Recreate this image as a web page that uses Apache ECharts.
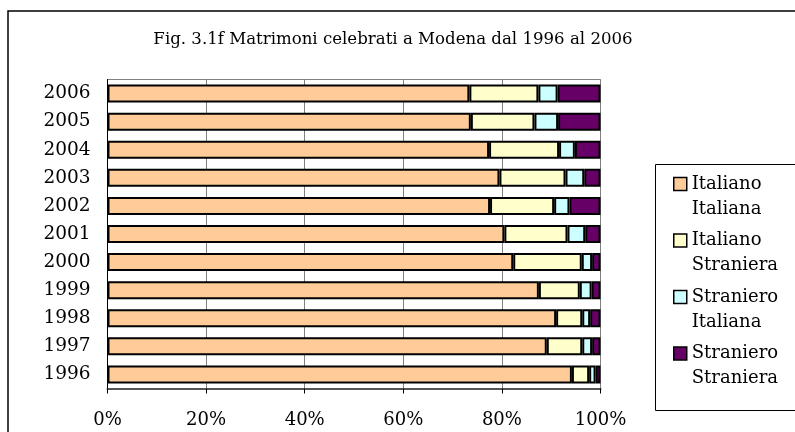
<!DOCTYPE html>
<html>
<head>
<meta charset="utf-8">
<script src="https://cdn.jsdelivr.net/npm/echarts@6/dist/echarts.min.js"></script>
<style>
  html, body { margin: 0; padding: 0; background: #fff; }
  #chart { width: 795px; height: 432px; }
</style>
</head>
<body>
<div id="chart"></div>
<script>
// years, bottom to top
const years = ['1996', '1997', '1998', '1999', '2000', '2001', '2002', '2003', '2004', '2005', '2006']

// shares in % (sposo / sposa)
const italianoItaliana = [94.2, 89.1, 91.0, 87.5, 82.3, 80.5, 77.6, 79.5, 77.4, 73.7, 73.4]
const italianoStraniera = [3.5, 7.2, 5.3, 8.3, 13.9, 12.8, 13.0, 13.4, 14.2, 12.9, 14.0]
const stranieroItaliana = [1.3, 2.0, 1.6, 2.4, 2.1, 3.6, 3.1, 3.8, 3.2, 4.8, 3.9]
const stranieroStraniera = [1.0, 1.7, 2.1, 1.8, 1.7, 3.1, 6.3, 3.3, 5.2, 8.6, 8.7]

const seriesNames = ['Italiano\nItaliana', 'Italiano\nStraniera', 'Straniero\nItaliana', 'Straniero\nStraniera']
const colors = ['#FFCC99', '#FFFFCC', '#CCFFFF', '#660066']

const font = 'DejaVu Serif'
const lineH = 25

const chart = echarts.init(document.getElementById('chart'))

const makeSeries = (name, values, color) => ({
  name: name,
  type: 'bar',
  stack: 'total',
  data: values,
  barWidth: '64%',
  itemStyle: {
    color: color,
    borderColor: '#000',
    borderWidth: 2
  },
  emphasis: { disabled: true }
})

const option = {
  animation: false,
  title: {
    text: 'Fig. 3.1f Matrimoni celebrati a Modena dal 1996 al 2006',
    left: 388,
    top: 26,
    textAlign: 'center',
    textStyle: {
      fontFamily: font,
      fontSize: 16.6,
      fontWeight: 'normal',
      color: '#000'
    }
  },
  legend: {
    orient: 'vertical',
    left: 673,
    top: 184 - 1.5 * lineH,
    padding: 0,
    itemGap: 56.5 - 3 * lineH,
    itemWidth: 13,
    itemHeight: 13,
    icon: 'rect',
    itemStyle: { borderColor: '#000', borderWidth: 1.5 },
    // blank first line so the marker sits beside the first word
    formatter: name => ' \n' + name,
    textStyle: {
      fontFamily: font,
      fontSize: 18,
      color: '#000',
      lineHeight: lineH
    },
    data: seriesNames
  },
  grid: {
    left: 107.5,
    right: 194.5,
    top: 79.5,
    bottom: 43.5,
    show: true,
    borderColor: '#808080',
    borderWidth: 1
  },
  xAxis: {
    type: 'value',
    min: 0,
    max: 100,
    interval: 20,
    axisLabel: {
      formatter: '{value}%',
      fontFamily: font,
      fontSize: 18,
      color: '#000',
      margin: 23
    },
    axisLine: { show: true, lineStyle: { color: '#555', width: 2 } },
    axisTick: { show: true, length: 5, lineStyle: { color: '#000' } },
    splitLine: { lineStyle: { color: '#808080', width: 1 } }
  },
  yAxis: {
    type: 'category',
    data: years,
    axisLabel: {
      fontFamily: font,
      fontSize: 18.5,
      color: '#000',
      margin: 17
    },
    axisLine: { lineStyle: { color: '#000', width: 1 } },
    axisTick: { length: 5, lineStyle: { color: '#000' } }
  },
  graphic: [
    {
      type: 'rect',
      shape: { x: 8, y: 11, width: 800, height: 440 },
      style: { fill: 'none', stroke: '#000', lineWidth: 1.5 },
      silent: true
    },
    {
      type: 'rect',
      shape: { x: 655.5, y: 164.5, width: 200, height: 246 },
      style: { fill: 'none', stroke: '#000', lineWidth: 1 },
      silent: true
    }
  ],
  series: [
    makeSeries(seriesNames[0], italianoItaliana, colors[0]),
    makeSeries(seriesNames[1], italianoStraniera, colors[1]),
    makeSeries(seriesNames[2], stranieroItaliana, colors[2]),
    makeSeries(seriesNames[3], stranieroStraniera, colors[3])
  ]
}

chart.setOption(option)
</script>
</body>
</html>
